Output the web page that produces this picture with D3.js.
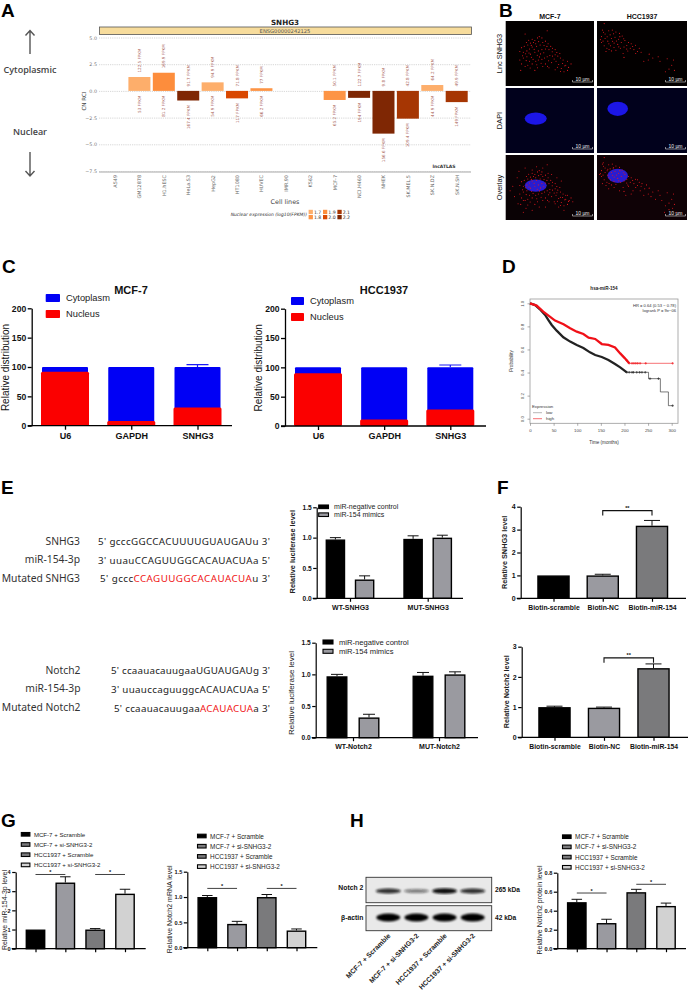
<!DOCTYPE html>
<html><head><meta charset="utf-8">
<script src="https://cdn.jsdelivr.net/npm/d3@7/dist/d3.min.js"></script>
<style>html,body{margin:0;padding:0;background:#fff}svg{display:block;font-family:"Liberation Sans",Arial,sans-serif}</style>
</head><body><svg id="fig" width="689" height="992"></svg>
<script>
// ---------- Panel A data
const cellLines=["A549","GM12878","H1.hESC","HeLa.S3","HepG2","HT1080","HUVEC","IMR.90","K562","MCF-7","NCI.H460","NHEK","SK.MEL.5","SK.N.DZ","SK.N.SH"];
const cnRci=[null,1.3,1.7,-0.9,0.8,-0.7,0.25,null,null,-0.85,-0.65,-4.0,-2.6,0.55,-1.05];
const cytoFpkm=["","122.5 FPKM","169.9 FPKM","91.7 FPKM","94.9 FPKM","71.8 FPKM","77 FPKM","","","50.1 FPKM","122.7 FPKM","9.8 FPKM","42.8 FPKM","64.2 FPKM","49.9 FPKM"];
const nucFpkm=["","53 FPKM","81.2 FPKM","167.4 FPKM","54.9 FPKM","117 FPKM","66.2 FPKM","","","65.2 FPKM","194 FPKM","156.6 FPKM","109.4 FPKM","44.9 FPKM","149 FPKM"];
const nucLevel=[null,"1.7","1.9","2.2","1.7","2.0","1.8",null,null,"1.8","2.2","2.2","2.1","1.7","2.1"];
const levelNames=["1.7","1.8","1.9","2.0","2.1","2.2"];
const levelColors=["#fdae6b","#fd9445","#fd8d3c","#d94801","#a63603","#7f2704"];
const rciTicks=[5,2.5,0,-2.5,-5,-7.5];
// ---------- Panel B data (percent of image box)
const mcfDots=[[47,15],[22,20],[30,28],[33,30],[36,26],[38,24],[41,26],[34,35],[28,34],[25,37],[21,39],[18,41],[16,47],[20,48],[24,46],[27,43],[30,40],[35,39],[39,37],[42,33],[45,31],[48,35],[51,39],[53,42],[56,44],[49,44],[45,43],[41,44],[37,46],[33,48],[28,51],[24,55],[20,57],[16,60],[18,66],[22,70],[17,76],[27,62],[31,59],[25,68],[30,66],[34,62],[37,60],[41,59],[44,57],[47,55],[50,53],[53,54],[56,52],[59,54],[62,57],[65,60],[70,62],[74,66],[67,69],[60,67],[63,73],[56,75],[49,72],[42,70],[36,72],[33,76],[45,66],[52,64],[57,62],[70,76],[66,78],[68,68],
 [23.5,33],[26,29.5],[31.5,33],[29,37.5],[37.3,31.7],[43.4,37.8],[46.7,39.1],[32.2,43.6],[22.6,50.3],[26.4,49.2],[19.1,53.4],[35.8,52.7],[39.4,50.6],[43.1,48.8],[52.7,47.2],[57.9,48.5],[61.3,50.1],[23.2,60.9],[29.1,55.7],[38.3,55.2],[48.6,61.2],[54.9,58.4],[35.2,67.4],[40.1,64.9],[27.7,72.3],[47.3,69.8],[58.6,71.1],[64.4,65.3],[71.2,71.4],[62.1,77.8]];
const hccDots=[[8,4],[6,14],[9,20],[13,15],[17,14],[21,17],[25,19],[28,23],[5,24],[9,27],[12,31],[16,27],[20,25],[24,28],[5,33],[8,38],[11,42],[15,38],[19,34],[23,36],[27,33],[31,30],[35,33],[38,35],[30,40],[33,43],[26,42],[21,45],[16,46],[10,47],[37,42],[41,44],[45,47],[49,48],[47,42],[43,50],[29,50],[58,51],[62,57],[57,60],[52,62],[68,55],[70,62],[78,58],[83,68],[80,74],[86,76],[76,78],[85,60],[30,56],
 [7.2,17.4],[11.3,24.2],[14.6,21.3],[18.4,19.7],[3.8,28.6],[6.7,30.9],[13.2,35.1],[17.3,31.2],[21.6,30.8],[25.4,24.1],[29.7,27.2],[33.1,37.6],[24.2,39.8],[18.9,40.7],[39.6,39.2],[42.8,37.4],[13.4,43.8],[34.2,46.1]];
const mcfOverlayExtra=[[5,55],[8,48],[10,64],[13,35],[15,25],[20,70],[25,77],[23,82],[14,75],[30,23],[35,18],[42,20],[40,30],[48,28],[52,30],[58,35],[63,40],[55,72],[60,80],[66,85],[72,70],[76,72],[68,62],[45,80],[38,80],[30,85],[20,88],[62,65],[50,58],[58,58]];
const hccOverlayExtra=[[7,12],[12,22],[18,20],[3,30],[6,44],[13,52],[19,50],[25,55],[35,48],[40,55],[48,55],[53,52],[60,64],[65,68],[72,70],[80,84],[84,82],[88,88],[75,88],[45,38],[50,44],[55,46],[38,60],[32,62]];
const microRows=["Lnc SNHG3","DAPI","Overlay"];
const microCols=["MCF-7","HCC1937"];
// ---------- Panel C data
const fracCats=["U6","GAPDH","SNHG3"];
const mcfNucleus=[92,8,31];
const hccNucleus=[90,11,28];
const cytoTotal=[100,100,100];
const cytoErrTop=[null,null,104];
const fracTicks=[0,50,100,150,200];
// ---------- Panel D data
const lowCurve=[[0,1],[10.6,.986],[21,.948],[32,.899],[39,.855],[46,.812],[56.5,.763],[70.6,.705],[85,.668],[99,.639],[113,.613],[127,.575],[138,.552],[152,.535],[166,.509],[180,.474],[191,.445],[205,.402]];
const lowTail=[[205,.402],[247,.402],[251,.347],[276,.232],[293,.113],[302,.113]];
const lowCensor=[[205,.402],[210,.402],[216,.402],[219,.402],[226,.402],[232,.402],[237,.402],[244,.402],[254,.347],[272,.347],[302,.113]];
const highCurve=[[0,1],[14,.98],[28,.928],[42,.884],[53,.85],[71,.818],[85,.783],[99,.754],[113,.734],[124,.702],[138,.691],[152,.647],[166,.639],[180,.618],[191,.566],[201,.523],[210,.48]];
const highTail=[[210,.48],[302,.48]];
const highCensor=[[205,.505],[210,.48],[216,.48],[220,.48],[224,.48],[228,.48],[233,.48],[245,.48],[302,.48]];
const timeTicks=[0,50,100,150,200,250,300];
const probTicks=[0,.2,.4,.6,.8,1];
// ---------- Panel E data
const seqNames1=["SNHG3","miR-154-3p","Mutated SNHG3"];
const seqNames2=["Notch2","miR-154-3p","Mutated Notch2"];
const seq1=[["5' gcccGGCCACUUUUGUAUGAUu 3'"],["3' uuauCCAGUUGGCACAUACUAa 5'"],["5' gccc","CCAGUUGGCACAUACUA","u 3'"]];
const seq2=[["5' ccaauacauugaaUGUAUGAUg 3'"],["3' uuauccaguuggcACAUACUAa 5'"],["5' ccaauacauugaa","ACAUACUA","a 3'"]];
const lucSeries=["miR-negative control","miR-154 mimics"];
const lucGroups1=["WT-SNHG3","MUT-SNHG3"];
const lucGroups2=["WT-Notch2","MUT-Notch2"];
const lucNeg1=[.97,.98], lucNegErr1=[1.0,1.03], lucMim1=[.31,1.0], lucMimErr1=[.37,1.04];
const lucNeg2=[.97,.98], lucNegErr2=[1.0,1.03], lucMim2=[.32,1.0], lucMimErr2=[.37,1.04];
const lucTicks=[0,.5,1,1.5];
// ---------- Panel F data
const biotinCats=["Biotin-scramble","Biotin-NC","Biotin-miR-154"];
const biotinSnhg3=[1,1,3.17], biotinSnhg3Err=[null,1.05,3.4];
const biotinNotch2=[1,.98,2.29], biotinNotch2Err=[1.03,1.0,2.43];
// ---------- Panel G / H data
const kdCats=["MCF-7 + Scramble","MCF-7 + si-SNHG3-2","HCC1937 + Scramble","HCC1937 + si-SNHG3-2"];
const gMir=[1,3.45,1,2.87], gMirErr=[null,3.75,1.05,3.1];
const gNotch=[1,.47,1,.34], gNotchErr=[1.03,.52,1.05,.37];
const hProt=[.49,.27,.595,.45], hProtErr=[.52,.31,.625,.48];
const blotNotch2=[.85,.5,1,.85];
const blotActin=[1,1,1,1];
const blotKda=["265 kDa","42 kDa"];

const svg=d3.select("#fig");
const DEFS=svg.append("defs");
DEFS.append("filter").attr("id","b1").append("feGaussianBlur").attr("stdDeviation",1.1);
DEFS.append("filter").attr("id","b2").append("feGaussianBlur").attr("stdDeviation",.7);

function txt(x,y,s,size,o={}){
  const t=svg.append("text").attr("x",x).attr("y",y).attr("font-size",size).attr("fill",o.fill||"#111")
    .attr("text-anchor",o.anchor||"start").attr("dominant-baseline","central").text(s);
  if(o.weight)t.attr("font-weight",o.weight);
  if(o.family)t.attr("font-family",o.family);
  if(o.style)t.attr("font-style",o.style);
  if(o.rot!=null)t.attr("transform",`rotate(${o.rot} ${x} ${y})`);
  return t;
}
// Panel letters
[["A",1,10.5],["B",499,10.5],["C",2,266],["D",502,266],["E",1,487],["F",497,487],["G",1,820],["H",350,820]]
  .forEach(d=>txt(d[1],d[2],d[0],19,{weight:"bold",fill:"#000"}));

// ================= Panel A
(function(){
  const F="DejaVu Sans";
  txt(285,22,"SNHG3",7.2,{anchor:"middle",weight:"bold",family:F,fill:"#222"});
  svg.append("rect").attr("x",99.5).attr("y",27).attr("width",372).attr("height",7.5).attr("fill","#f7dc9c").attr("stroke","#555").attr("stroke-width",.8);
  txt(285,30.8,"ENSG00000242125",5.2,{anchor:"middle",family:F,fill:"#555"});
  const y=d3.scaleLinear().domain([-7.5,5]).range([171,37.5]);
  const x=d3.scalePoint().domain(cellLines).range([115,456.7]);
  const yAx=svg.append("g").attr("transform","translate(99,0)").call(d3.axisLeft(y).tickValues(rciTicks).tickFormat(d3.format(".1f")).tickSizeInner(-372).tickSizeOuter(0).tickPadding(2));
  yAx.select(".domain").remove();
  yAx.selectAll("line").attr("stroke","#bbb").attr("stroke-width",.6).attr("stroke-dasharray","1.2 1");
  yAx.selectAll("text").attr("font-size",4.8).attr("fill","#777").attr("font-family",F);
  const rows=cellLines.map((c,i)=>({c,v:cnRci[i],lv:nucLevel[i],top:cytoFpkm[i],bot:nucFpkm[i]})).filter(d=>d.v!=null);
  const color=d3.scaleOrdinal().domain(levelNames).range(levelColors);
  svg.append("g").selectAll("rect").data(rows).join("rect")
    .attr("x",d=>x(d.c)-11).attr("width",22).attr("y",d=>y(Math.max(0,d.v))).attr("height",d=>Math.abs(y(d.v)-y(0))).attr("fill",d=>color(d.lv));
  rows.forEach(d=>{
    const yt=y(Math.max(0,d.v))-4.5, yb=y(Math.min(0,d.v))+4.5;
    txt(x(d.c),yt,d.top,4.1,{rot:-90,fill:"#a65a50",family:F});
    txt(x(d.c),yb,d.bot,4.1,{rot:-90,anchor:"end",fill:"#a65a50",family:F});
  });
  svg.append("line").attr("x1",99).attr("x2",471).attr("y1",172).attr("y2",172).attr("stroke","#c4c4c4").attr("stroke-width",1.6);
  cellLines.forEach(c=>txt(x(c),175,c,4.9,{rot:-90,anchor:"end",fill:"#666",family:F}));
  txt(285,201.5,"Cell lines",6.4,{anchor:"middle",fill:"#444",family:F});
  txt(84,101,"CN RCI",5.6,{rot:-90,anchor:"middle",fill:"#444",family:F});
  txt(444,166,"lncATLAS",4.5,{anchor:"middle",weight:"bold",fill:"#333",family:F});
  txt(307,214.5,"Nuclear expression (log10(FPKM))",4.5,{anchor:"end",style:"italic",fill:"#333",family:F});
  levelNames.forEach((n,i)=>{
    const cx=308.6+Math.floor(i/2)*14.4, cy=i%2?215:209.8;
    svg.append("rect").attr("x",cx).attr("y",cy).attr("width",4.3).attr("height",4.3).attr("fill",levelColors[i]);
    txt(cx+5.3,cy+2.2,n,4.6,{fill:"#333",family:F});
  });
  txt(30,69.5,"Cytoplasmic",9,{anchor:"middle",weight:600,family:"Open Sans",fill:"#444"});
  txt(30,131.5,"Nuclear",9,{anchor:"middle",weight:600,family:"Open Sans",fill:"#444"});
  const ar=(y1,y2)=>{const s=y2<y1?1:-1;
    svg.append("path").attr("fill","none").attr("stroke","#555").attr("stroke-width",1.4)
      .attr("d",`M30 ${y1}L30 ${y2}M25.5 ${y2+s*5}L30 ${y2}L34.5 ${y2+s*5}`);};
  ar(54,30.5); ar(152,176);
})();

// ================= Panel B
(function(){
  const xs=[[505.7,594],[597,687]], ys=[[21,86],[88,153],[155,220]];
  const bgs=[["#030000","#030000"],["#01011c","#01011c"],["#0a0205","#0f0206"]];
  const nuc=[{cx:34,cy:47,rx:12.5,ry:9.5},{cx:23,cy:32,rx:11.5,ry:11}];
  const dots=[mcfDots,hccDots], extra=[mcfOverlayExtra,hccOverlayExtra];
  microCols.forEach((c,ci)=>{
    const sx=d3.scaleLinear().domain([0,100]).range(xs[ci]);
    txt((xs[ci][0]+xs[ci][1])/2,16,c,7,{anchor:"middle",weight:"bold"});
    microRows.forEach((r,ri)=>{
      const sy=d3.scaleLinear().domain([0,100]).range(ys[ri]);
      svg.append("rect").attr("x",xs[ci][0]).attr("y",ys[ri][0]).attr("width",xs[ci][1]-xs[ci][0]).attr("height",ys[ri][1]-ys[ri][0]).attr("fill",bgs[ri][ci]);
      if(ri>0){const n=nuc[ci];
        svg.append("ellipse").attr("cx",sx(n.cx)).attr("cy",sy(n.cy)).attr("rx",sx(n.rx)-sx(0)).attr("ry",sy(n.ry)-sy(0)).attr("fill",ri==1?"#1a14e6":"#2a1ad0").attr("filter","url(#b2)");}
      if(ri!=1){const pts=ri==0?dots[ci]:dots[ci].concat(extra[ci]);
        svg.append("g").selectAll("circle").data(pts).join("circle").attr("cx",d=>sx(d[0])).attr("cy",d=>sy(d[1])).attr("r",.55).attr("fill","#e0181f");}
      const bx=xs[ci][1]-21.5, by=ys[ri][1]-4;
      svg.append("path").attr("fill","none").attr("stroke","#ddd").attr("stroke-width",.6).attr("d",`M${bx} ${by-2}V${by}H${bx+20}V${by-2}`);
      txt(bx+10,by-3,"10 µm",5,{anchor:"middle",fill:"#eee"});
      if(ci==0)txt(499,(ys[ri][0]+ys[ri][1])/2,r,7.4,{rot:-90,anchor:"middle"});
    });
  });
})();

// Generic axis styling for the bar panels
function styleAxis(g,size,weight,sw){
  g.selectAll("line").attr("stroke","#000").attr("stroke-width",sw);
  g.selectAll("text").attr("font-size",size).attr("font-weight",weight).attr("fill","#111");
  g.select(".domain").attr("stroke","#000").attr("stroke-width",sw);
}

// ================= Panel C
function fraction(o){
  const y=d3.scaleLinear().domain([0,200]).range([o.base,o.top]);
  const x=d3.scalePoint().domain(fracCats).range(o.range);
  fracCats.forEach((c,i)=>{
    svg.append("rect").attr("x",x(c)-23).attr("width",46).attr("y",y(cytoTotal[i])).attr("height",y(0)-y(cytoTotal[i])).attr("fill","#0000f5").attr("rx",1);
    if(cytoErrTop[i]){
      svg.append("path").attr("fill","none").attr("stroke","#1a1af5").attr("stroke-width",1.2)
        .attr("d",`M${x(c)} ${y(cytoTotal[i])}V${y(cytoErrTop[i])}M${x(c)-11} ${y(cytoErrTop[i])}H${x(c)+11}`);
    }
    svg.append("rect").attr("x",x(c)-24).attr("width",48).attr("y",y(o.nucleus[i])).attr("height",y(0)-y(o.nucleus[i])).attr("fill","#fb0000").attr("rx",1.5);
  });
  const ga=svg.append("g").attr("transform",`translate(${o.ax},0)`).call(d3.axisLeft(y).tickValues(fracTicks).tickSize(4).tickSizeOuter(0).tickPadding(1.5));
  styleAxis(ga,8.6,"bold",1.3);
  const gb=svg.append("g").attr("transform",`translate(0,${o.base})`).call(d3.axisBottom(x).tickSize(4).tickSizeOuter(0).tickPadding(3));
  gb.select(".domain").remove();
  styleAxis(gb,9,"bold",1.3);
  svg.append("line").attr("x1",o.ax-4).attr("x2",o.end).attr("y1",o.base).attr("y2",o.base).attr("stroke","#000").attr("stroke-width",1.3);
  txt(o.ax-26.5,(o.base+o.top)/2+.5,"Relative distribution",10,{rot:-90,anchor:"middle"});
  txt(o.tx,290,o.title,11,{anchor:"middle",weight:"bold"});
  [["Cytoplasm","#0000f5",o.ly],["Nucleus","#fb0000",o.ly+16]].forEach(l=>{
    svg.append("rect").attr("x",o.lx).attr("y",l[2]-4).attr("width",o.lw).attr("height",8).attr("fill",l[1]).attr("rx",.8);
    txt(o.lx+o.lw+6,l[2],l[0],9.3,{fill:"#222"});
  });
}
fraction({base:425.7,top:308.3,range:[65,197.5],ax:31.7,end:232,nucleus:mcfNucleus,title:"MCF-7",tx:131,lx:45.7,lw:14.3,ly:298});
fraction({base:426,top:308.7,range:[318,450.3],ax:285,end:486,nucleus:hccNucleus,title:"HCC1937",tx:384,lx:291,lw:13,ly:301});

// ================= Panel D
(function(){
  const x=d3.scaleLinear().domain([0,300]).range([530,671.7]);
  const y=d3.scaleLinear().domain([0,1]).range([418.7,303.3]);
  svg.append("rect").attr("x",530).attr("y",299).attr("width",148).attr("height",124.3).attr("fill","none").attr("stroke","#999").attr("stroke-width",.8);
  const gx=svg.append("g").attr("transform","translate(0,423.3)").call(d3.axisBottom(x).tickValues(timeTicks).tickSize(2.5).tickPadding(3));
  const gy=svg.append("g").attr("transform","translate(530,0)").call(d3.axisLeft(y).tickValues(probTicks).tickFormat(d3.format(".1f")).tickSize(2.5).tickPadding(3));
  [gx,gy].forEach(g=>{g.select(".domain").remove();g.selectAll("line").attr("stroke","#777").attr("stroke-width",.6);g.selectAll("text").attr("font-size",4.4).attr("fill","#444");});
  gy.selectAll("text").attr("text-anchor","middle").attr("dy",0).attr("x",0).attr("transform","translate(-8,0) rotate(-90)").attr("dominant-baseline","central");
  const ln=d3.line().x(d=>x(d[0])).y(d=>y(d[1]));
  const step=d3.line().curve(d3.curveStepAfter).x(d=>x(d[0])).y(d=>y(d[1]));
  const dr=(cur,tail,cen,col)=>{
    svg.append("path").attr("d",ln(cur)).attr("fill","none").attr("stroke",col).attr("stroke-width",2.3);
    svg.append("path").attr("d",step(tail)).attr("fill","none").attr("stroke",col).attr("stroke-width",.6);
    svg.append("g").selectAll("path").data(cen).join("path").attr("fill","none").attr("stroke",col).attr("stroke-width",.6)
      .attr("d",d=>`M${x(d[0])-1.3} ${y(d[1])}h2.6M${x(d[0])} ${y(d[1])-1.3}v2.6`);
  };
  dr(lowCurve,lowTail,lowCensor,"#222");
  dr(highCurve,highTail,highCensor,"#f01018");
  txt(604,288.7,"hsa-miR-154",4.6,{anchor:"middle",weight:"bold",fill:"#222"});
  txt(676,305,"HR = 0.64 (0.53 − 0.78)",4.1,{anchor:"end",fill:"#333"});
  txt(676,310,"logrank P = 9e−06",4.1,{anchor:"end",fill:"#333"});
  txt(604,442.3,"Time (months)",4.6,{anchor:"middle",fill:"#333"});
  txt(511.7,361,"Probability",4.6,{rot:-90,anchor:"middle",fill:"#333"});
  txt(532,406,"Expression",4.3,{fill:"#333"});
  txt(546,412.7,"low",4.3,{fill:"#333"});
  txt(546,418.7,"high",4.3,{fill:"#333"});
  [[412.7,"#888"],[418.7,"#f01018"]].forEach(l=>svg.append("line").attr("x1",533).attr("x2",542).attr("y1",l[0]).attr("y2",l[0]).attr("stroke",l[1]).attr("stroke-width",.6));
})();

// ================= Panel E sequences
function seqBlock(names,seqs,labelYs,seqYs,labelX,starts){
  names.forEach((n,i)=>txt(labelX,labelYs[i],n,10.3,{anchor:"end",family:"Noto Sans",fill:"#333"}));
  seqs.forEach((parts,i)=>{
    const t=svg.append("text").attr("x",starts[i]).attr("y",seqYs[i]).attr("font-size",9.8).attr("font-family","Noto Sans").attr("fill","#222").attr("dominant-baseline","central")
      .attr("textLength",270-starts[i]).attr("lengthAdjust","spacing");
    parts.forEach((p,k)=>{const ts=t.append("tspan").text(p); if(parts.length==3&&k==1)ts.attr("fill","#f01414");});
  });
}
seqBlock(seqNames1,seq1,[540.7,558.7,578],[540.5,560,578],80,[98,98,100]);
seqBlock(seqNames2,seq2,[670,688,707.3],[670,689.3,707.5],80.5,[111,111,114]);

// ================= bar panel helper (E, F, G, H)
function barPanel(o){
  const y=d3.scaleLinear().domain([0,o.max]).range([o.base,o.top]);
  const bars=o.bars(y);
  svg.append("g").selectAll("rect").data(bars).join("rect")
    .attr("x",d=>d.cx-o.bw/2+.7).attr("width",o.bw-1.4).attr("y",d=>y(d.v)+.7).attr("height",d=>Math.max(0,y(0)-y(d.v)-.7))
    .attr("fill",d=>d.fill).attr("stroke","#000").attr("stroke-width",1.4);
  svg.append("g").selectAll("path").data(bars.filter(d=>d.err!=null)).join("path").attr("fill","none").attr("stroke","#111").attr("stroke-width",1)
    .attr("d",d=>`M${d.cx} ${y(d.v)}V${y(d.err)}M${d.cx-o.cap/2} ${y(d.err)}H${d.cx+o.cap/2}`);
  const gy=svg.append("g").attr("transform",`translate(${o.ax},0)`).call(d3.axisLeft(y).tickValues(o.ticks).tickFormat(o.fmt).tickSize(3.5).tickSizeOuter(0).tickPadding(1.5));
  styleAxis(gy,o.tickSize,"bold",1.2);
  const gx=svg.append("g").attr("transform",`translate(0,${o.base})`).call(d3.axisBottom(o.x).tickSize(3.5).tickSizeOuter(0).tickPadding(3).tickFormat(o.noLabels?"":null));
  gx.select(".domain").remove();
  styleAxis(gx,o.xSize||7,"bold",1.2);
  svg.append("line").attr("x1",o.ax-4).attr("x2",o.end).attr("y1",o.base).attr("y2",o.base).attr("stroke","#000").attr("stroke-width",1.2);
  txt(o.lblX,o.lblY,o.label,o.lblSize,{rot:-90,anchor:"middle",weight:o.lblWeight,fill:"#222"});
  (o.sig||[]).forEach(s=>{
    const a=bars[s.from].cx,b=bars[s.to].cx,yy=y(s.y);
    svg.append("path").attr("fill","none").attr("stroke","#111").attr("stroke-width",s.tick?1.1:.8).attr("d",s.tick?`M${a} ${yy+s.tick}V${yy}H${b}V${yy+s.tick}`:`M${a} ${yy}H${b}`);
    txt((a+b)/2,yy-2.4,s.text,5.5,{anchor:"middle",weight:"bold"});
  });
  (o.legend||[]).forEach((l,i)=>{
    const ly=o.legY+i*o.legStep;
    svg.append("rect").attr("x",o.legX).attr("y",ly-o.legH/2).attr("width",o.legW).attr("height",o.legH).attr("fill",l.fill).attr("stroke","#000").attr("stroke-width",1.1);
    txt(o.legX+o.legW+o.legGap,ly,l.name,o.legSize,{fill:"#222"});
  });
}
const fmt1=d3.format(".1f"), fmt0=d3.format("d");
const GREY="#9a9aa0", DGREY="#7a7a7c", LGREY="#d2d2d2";

// E charts
function lucChart(o){
  const x0=d3.scalePoint().domain(o.groups).range(o.groupRange);
  const inner=d3.scalePoint().domain(lucSeries).range([-o.off,o.off]);
  barPanel(Object.assign({max:1.5,ticks:lucTicks,fmt:fmt1,x:x0,tickSize:6.6,
    bars:()=>o.groups.flatMap((g,i)=>[
      {cx:x0(g)+inner(lucSeries[0]),v:o.neg[i],err:o.negErr[i],fill:"#000"},
      {cx:x0(g)+inner(lucSeries[1]),v:o.mim[i],err:o.mimErr[i],fill:GREY}]),
    legend:[{name:lucSeries[0],fill:"#000"},{name:lucSeries[1],fill:GREY}]},o));
}
lucChart({groups:lucGroups1,groupRange:[350,427.7],off:14.6,neg:lucNeg1,negErr:lucNegErr1,mim:lucMim1,mimErr:lucMimErr1,base:598.3,top:507.3,ax:316.7,end:463,bw:19.6,cap:11,xSize:7,
  label:"Relative luciferase level",lblX:293,lblY:551.7,lblSize:7.4,lblWeight:"bold",legX:318.7,legY:506.8,legStep:7.9,legW:9.8,legH:3.6,legGap:5.6,legSize:7});
lucChart({groups:lucGroups2,groupRange:[353,439],off:16,neg:lucNeg2,negErr:lucNegErr2,mim:lucMim2,mimErr:lucMimErr2,base:737.7,top:642.7,ax:315.7,end:478,bw:21,cap:12,xSize:7,
  label:"Relative luciferase level",lblX:291.7,lblY:693,lblSize:8,legX:323,legY:642,legStep:9.3,legW:10,legH:4,legGap:6,legSize:7.6});

// F charts
function biotin(o){
  const x=d3.scalePoint().domain(biotinCats).range(o.range);
  barPanel(Object.assign({x,tickSize:7,fmt:fmt0,xSize:6.8,bw:32.5,cap:16,
    bars:()=>biotinCats.map((c,i)=>({cx:x(c),v:o.vals[i],err:o.errs[i],fill:["#000",GREY,DGREY][i]})),
    sig:[{from:1,to:2,y:o.sigY,tick:5,text:"**"}],lblWeight:"bold",lblSize:7.3},o));
}
biotin({range:[553.5,652],vals:biotinSnhg3,errs:biotinSnhg3Err,max:4,ticks:[0,1,2,3,4],base:598.3,top:506.7,ax:520.7,end:686,sigY:3.83,label:"Relative SNHG3 level",lblX:504.7,lblY:552.3});
biotin({range:[554.5,653.5],vals:biotinNotch2,errs:biotinNotch2Err,max:3,ticks:[0,1,2,3],base:737.3,top:646.7,ax:521.7,end:688,sigY:2.63,label:"Relative Notch2 level",lblX:506.7,lblY:691.7});

// G and H charts
function kdChart(o){
  const x=d3.scalePoint().domain(kdCats).range(o.range);
  barPanel(Object.assign({x,noLabels:true,tickSize:5.6,bw:19.8,cap:10.5,lblWeight:null,lblSize:7,
    bars:()=>kdCats.map((c,i)=>({cx:x(c),v:o.vals[i],err:o.errs[i],fill:["#000",GREY,DGREY,LGREY][i]})),
    legend:kdCats.map((c,i)=>({name:c,fill:["#000",DGREY,DGREY,LGREY][i]})),legW:8.6,legH:3.6,legGap:4,legSize:6.1,legStep:10.2},o));
}
kdChart({range:[35.5,125],vals:gMir,errs:gMirErr,max:4,ticks:[0,1,2,3,4],fmt:fmt0,base:948.7,top:872,ax:15.7,end:145.7,
  sig:[{from:0,to:1,y:3.87,text:"*"},{from:2,to:3,y:3.87,text:"*"}],label:"Relative miR-154-3p level",lblX:4,lblY:910,legX:21.3,legY:834.3});
kdChart({range:[207.3,296.5],vals:gNotch,errs:gNotchErr,max:1.5,ticks:[0,.5,1,1.5],fmt:fmt1,base:947.7,top:871.7,ax:187.3,end:317.3,
  sig:[{from:0,to:1,y:1.17,text:"*"},{from:2,to:3,y:1.17,text:"*"}],label:"Relative Notch2 mRNA level",lblX:170,lblY:909.3,legX:197.5,legY:836,legSize:6.4});
kdChart({range:[576.8,666],vals:hProt,errs:hProtErr,max:.8,ticks:[0,.2,.4,.6,.8],fmt:fmt1,base:948.7,top:872.7,ax:557.3,end:686,
  sig:[{from:0,to:1,y:.586,text:"*"},{from:2,to:3,y:.678,text:"*"}],label:"Relative Notch2 protein level",lblX:539.3,lblY:910,legX:562.5,legY:836.7,legSize:6.4});

// H blot
(function(){
  const x=d3.scalePoint().domain(kdCats).range([388.3,472.7]);
  const op=d3.scaleLinear().domain([0,1]).range([0,1]);
  [[877.3,25.4],[905.7,25]].forEach(b=>svg.append("rect").attr("x",366).attr("y",b[0]).attr("width",125.7).attr("height",b[1]).attr("fill","#e9e9e9").attr("stroke","#333").attr("stroke-width",.9));
  svg.append("g").attr("filter","url(#b1)").selectAll("ellipse").data(blotNotch2).join("ellipse")
    .attr("cx",(d,i)=>x(kdCats[i])).attr("cy",891).attr("rx",12.5).attr("ry",d=>1.2+1.6*d).attr("fill","#111").attr("opacity",d=>op(d));
  svg.append("g").attr("filter","url(#b1)").selectAll("ellipse").data(blotActin).join("ellipse")
    .attr("cx",(d,i)=>x(kdCats[i])).attr("cy",917.5).attr("rx",12).attr("ry",4).attr("fill","#050505").attr("opacity",d=>op(d));
  txt(363.3,887.7,"Notch 2",6.8,{anchor:"end",weight:"bold"});
  txt(363.3,917,"β-actin",6.8,{anchor:"end",weight:"bold"});
  txt(495,889.3,blotKda[0],6.6,{weight:"bold"});
  txt(495,917,blotKda[1],6.6,{weight:"bold"});
  kdCats.forEach((c,i)=>txt(x(c)+1,934.5,c,6.9,{rot:-45,anchor:"end",weight:"bold",fill:"#222"}));
})();
</script></body></html>
